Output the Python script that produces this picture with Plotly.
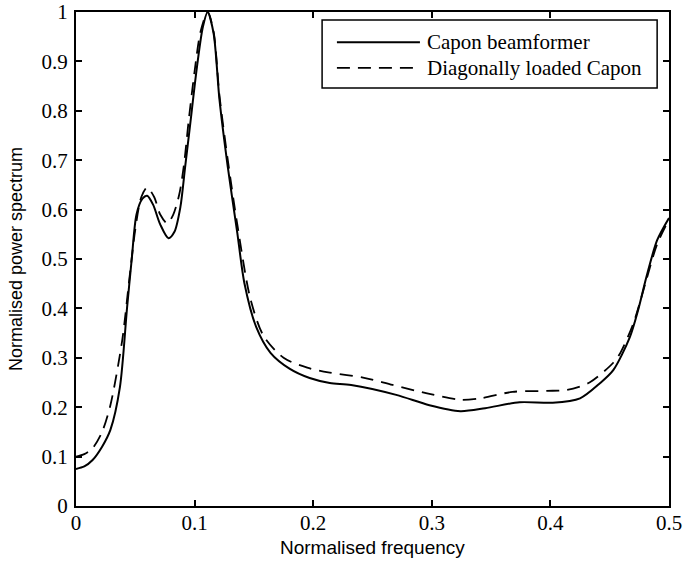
import plotly.graph_objects as go

# Capon beamformer (solid)
freq_capon = [0, 0.007, 0.014, 0.022, 0.029, 0.037, 0.043, 0.047, 0.051, 0.056, 0.06,
              0.065, 0.071, 0.078, 0.083, 0.088, 0.092, 0.096, 0.102, 0.107, 0.111,
              0.116, 0.121, 0.128, 0.136, 0.142, 0.152, 0.164, 0.18, 0.197, 0.214,
              0.232, 0.27, 0.298, 0.324, 0.345, 0.374, 0.402, 0.425, 0.442, 0.453,
              0.467, 0.474, 0.481, 0.49, 0.5]
power_capon = [0.075, 0.08, 0.093, 0.12, 0.154, 0.24, 0.40, 0.50, 0.59, 0.622, 0.628,
               0.61, 0.57, 0.542, 0.555, 0.605, 0.686, 0.767, 0.889, 0.97, 1.0,
               0.957, 0.822, 0.686, 0.553, 0.451, 0.362, 0.31, 0.278, 0.259, 0.249,
               0.245, 0.225, 0.204, 0.192, 0.198, 0.21, 0.209, 0.218, 0.249, 0.275,
               0.342, 0.397, 0.464, 0.538, 0.583]

# Diagonally loaded Capon (dashed)
freq_dl = [0, 0.007, 0.014, 0.022, 0.029, 0.039, 0.045, 0.05, 0.055, 0.06, 0.066,
           0.071, 0.077, 0.082, 0.087, 0.091, 0.095, 0.1, 0.105, 0.111, 0.116, 0.121,
           0.128, 0.136, 0.147, 0.158, 0.175, 0.195, 0.214, 0.242, 0.267, 0.298,
           0.324, 0.341, 0.368, 0.397, 0.414, 0.433, 0.453, 0.459, 0.47, 0.48, 0.49, 0.5]
power_dl = [0.1, 0.105, 0.117, 0.15, 0.204, 0.336, 0.46, 0.56, 0.625, 0.645, 0.625,
            0.59, 0.572, 0.59, 0.63, 0.69, 0.78, 0.88, 0.96, 1.0, 0.96, 0.83,
            0.7, 0.57, 0.42, 0.345, 0.30, 0.28, 0.27, 0.26, 0.245, 0.227,
            0.215, 0.218, 0.231, 0.233, 0.235, 0.25, 0.29, 0.31, 0.37, 0.45, 0.53, 0.58]

x_ticks = [0, 0.1, 0.2, 0.3, 0.4, 0.5]
x_ticklabels = ["0", "0.1", "0.2", "0.3", "0.4", "0.5"]
y_ticks = [0, 0.1, 0.2, 0.3, 0.4, 0.5, 0.6, 0.7, 0.8, 0.9, 1]
y_ticklabels = ["0", "0.1", "0.2", "0.3", "0.4", "0.5", "0.6", "0.7", "0.8", "0.9", "1"]

legend_names = ["Capon beamformer", "Diagonally loaded Capon"]
x_title = "Normalised frequency"
y_title = "Normalised power spectrum"

DASH = "13px,8px"

fig = go.Figure()
fig.add_trace(go.Scatter(x=freq_capon, y=power_capon, mode="lines",
                         line=dict(color="black", width=2, shape="spline", smoothing=0.8),
                         name=legend_names[0], showlegend=False))
fig.add_trace(go.Scatter(x=freq_dl, y=power_dl, mode="lines",
                         line=dict(color="black", width=1.8, dash=DASH, shape="spline", smoothing=0.8),
                         name=legend_names[1], showlegend=False))

serif = "Liberation Serif, Times New Roman, serif"
sans = "Liberation Sans, Arial, sans-serif"

fig.update_layout(
    width=685, height=567,
    margin=dict(l=76, r=16, t=12, b=61),
    paper_bgcolor="white", plot_bgcolor="white",
    xaxis=dict(range=[0, 0.5], tickvals=x_ticks, ticktext=x_ticklabels,
               automargin=False,
               showgrid=False, zeroline=False, showline=True, linecolor="black",
               linewidth=2, mirror="ticks", ticks="inside", ticklen=6, tickwidth=1.5,
               tickcolor="black", tickfont=dict(family=serif, size=21, color="black"),
               ticklabelstandoff=-3),
    yaxis=dict(range=[0, 1], tickvals=y_ticks, ticktext=y_ticklabels,
               automargin=False,
               showgrid=False, zeroline=False, showline=True, linecolor="black",
               linewidth=2, mirror="ticks", ticks="inside", ticklen=6, tickwidth=1.5,
               tickcolor="black", tickfont=dict(family=serif, size=21, color="black"),
               ticklabelstandoff=2,
               title=dict(text=y_title, font=dict(family=sans, size=18, color="black"),
                          standoff=14)),
)

# x-axis title placed just under the tick labels
fig.add_annotation(xref="paper", yref="paper", x=0.5, y=0, yshift=-29, text=x_title,
                   showarrow=False, xanchor="center", yanchor="top",
                   font=dict(family=sans, size=19, color="black"))

# Legend box drawn manually (longer line samples than Plotly's default legend)
fig.add_shape(type="rect", xref="paper", yref="paper", x0=0.415, x1=0.980, y0=0.846, y1=0.984,
              line=dict(color="black", width=1.5), fillcolor="white", layer="above")
fig.add_shape(type="line", xref="paper", yref="paper", x0=0.44, x1=0.58, y0=0.939, y1=0.939,
              line=dict(color="black", width=2), layer="above")
fig.add_shape(type="line", xref="paper", yref="paper", x0=0.44, x1=0.58, y0=0.887, y1=0.887,
              line=dict(color="black", width=1.8, dash=DASH), layer="above")
fig.add_annotation(xref="paper", yref="paper", x=0.589, y=0.939, text=legend_names[0],
                   showarrow=False, xanchor="left", yanchor="middle",
                   font=dict(family=serif, size=21, color="black"))
fig.add_annotation(xref="paper", yref="paper", x=0.589, y=0.887, text=legend_names[1],
                   showarrow=False, xanchor="left", yanchor="middle",
                   font=dict(family=serif, size=21, color="black"))

# Remove the default page margin so the figure fills the window exactly.
fig.write_html("out.html", config={"displayModeBar": False},
               post_script="document.body.style.margin='0';")
